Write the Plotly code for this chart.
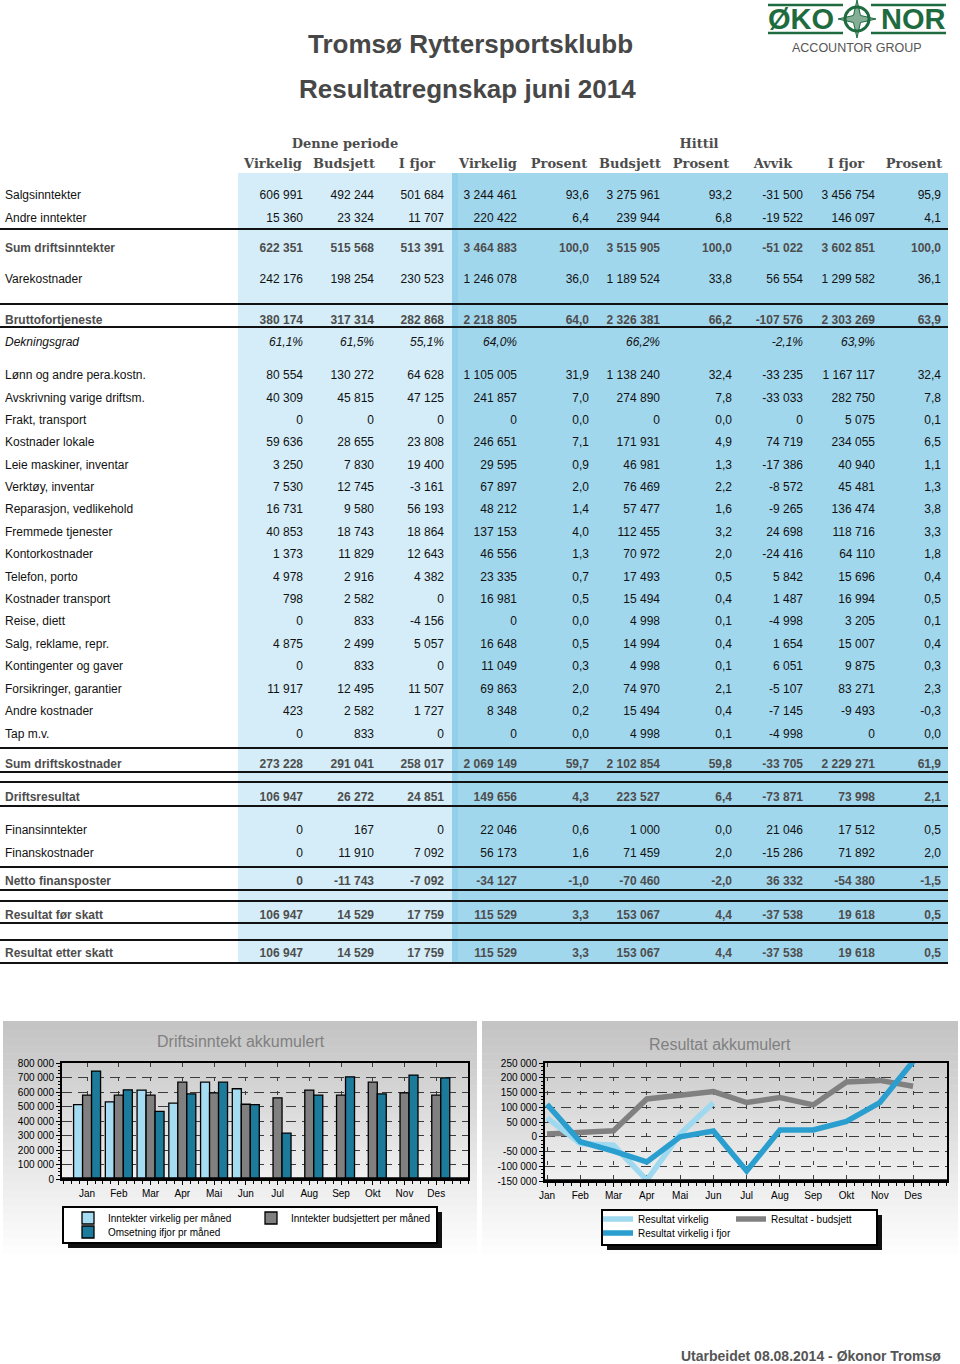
import plotly.graph_objects as go

W, H = 960, 1364

# ---------------------------------------------------------------- data
TITLE = "Tromsø Ryttersportsklubb"
SUBTITLE = "Resultatregnskap juni 2014"
FOOTER = "Utarbeidet 08.08.2014 - Økonor Tromsø"
GROUP_HEADERS = ["Denne periode", "Hittil"]
COLUMN_HEADERS = ["Virkelig", "Budsjett", "I fjor", "Virkelig", "Prosent",
                  "Budsjett", "Prosent", "Avvik", "I fjor", "Prosent"]

ROW_LABELS = [
    "Salgsinntekter", "Andre inntekter", "Sum driftsinntekter", "Varekostnader",
    "Bruttofortjeneste", "Dekningsgrad",
    "Lønn og andre pera.kostn.", "Avskrivning varige driftsm.", "Frakt, transport",
    "Kostnader lokale", "Leie maskiner, inventar", "Verktøy, inventar",
    "Reparasjon, vedlikehold", "Fremmede tjenester", "Kontorkostnader",
    "Telefon, porto", "Kostnader transport", "Reise, diett", "Salg, reklame, repr.",
    "Kontingenter og gaver", "Forsikringer, garantier", "Andre kostnader", "Tap m.v.",
    "Sum driftskostnader", "Driftsresultat", "Finansinntekter", "Finanskostnader",
    "Netto finansposter", "Resultat før skatt", "Resultat etter skatt",
]
# n = normal row, sum = subtotal row, ratio = percentage row
ROW_KIND = ["n", "n", "sum", "n", "sum", "ratio"] + ["n"] * 17 + \
           ["sum", "sum", "n", "n", "sum", "sum", "sum"]

PER_VIRKELIG = [606991, 15360, 622351, 242176, 380174, 61.1, 80554, 40309, 0, 59636,
                3250, 7530, 16731, 40853, 1373, 4978, 798, 0, 4875, 0, 11917, 423, 0,
                273228, 106947, 0, 0, 0, 106947, 106947]
PER_BUDSJETT = [492244, 23324, 515568, 198254, 317314, 61.5, 130272, 45815, 0, 28655,
                7830, 12745, 9580, 18743, 11829, 2916, 2582, 833, 2499, 833, 12495, 2582,
                833, 291041, 26272, 167, 11910, -11743, 14529, 14529]
PER_IFJOR = [501684, 11707, 513391, 230523, 282868, 55.1, 64628, 47125, 0, 23808,
             19400, -3161, 56193, 18864, 12643, 4382, 0, -4156, 5057, 0, 11507, 1727, 0,
             258017, 24851, 0, 7092, -7092, 17759, 17759]
HIT_VIRKELIG = [3244461, 220422, 3464883, 1246078, 2218805, 64.0, 1105005, 241857, 0,
                246651, 29595, 67897, 48212, 137153, 46556, 23335, 16981, 0, 16648, 11049,
                69863, 8348, 0, 2069149, 149656, 22046, 56173, -34127, 115529, 115529]
HIT_VIRKELIG_PROSENT = [93.6, 6.4, 100.0, 36.0, 64.0, None, 31.9, 7.0, 0.0, 7.1, 0.9,
                        2.0, 1.4, 4.0, 1.3, 0.7, 0.5, 0.0, 0.5, 0.3, 2.0, 0.2, 0.0, 59.7,
                        4.3, 0.6, 1.6, -1.0, 3.3, 3.3]
HIT_BUDSJETT = [3275961, 239944, 3515905, 1189524, 2326381, 66.2, 1138240, 274890, 0,
                171931, 46981, 76469, 57477, 112455, 70972, 17493, 15494, 4998, 14994,
                4998, 74970, 15494, 4998, 2102854, 223527, 1000, 71459, -70460, 153067,
                153067]
HIT_BUDSJETT_PROSENT = [93.2, 6.8, 100.0, 33.8, 66.2, None, 32.4, 7.8, 0.0, 4.9, 1.3,
                        2.2, 1.6, 3.2, 2.0, 0.5, 0.4, 0.1, 0.4, 0.1, 2.1, 0.4, 0.1, 59.8,
                        6.4, 0.0, 2.0, -2.0, 4.4, 4.4]
HIT_AVVIK = [-31500, -19522, -51022, 56554, -107576, -2.1, -33235, -33033, 0, 74719,
             -17386, -8572, -9265, 24698, -24416, 5842, 1487, -4998, 1654, 6051, -5107,
             -7145, -4998, -33705, -73871, 21046, -15286, 36332, -37538, -37538]
HIT_IFJOR = [3456754, 146097, 3602851, 1299582, 2303269, 63.9, 1167117, 282750, 5075,
             234055, 40940, 45481, 136474, 118716, 64110, 15696, 16994, 3205, 15007, 9875,
             83271, -9493, 0, 2229271, 73998, 17512, 71892, -54380, 19618, 19618]
HIT_IFJOR_PROSENT = [95.9, 4.1, 100.0, 36.1, 63.9, None, 32.4, 7.8, 0.1, 6.5, 1.1, 1.3,
                     3.8, 3.3, 1.8, 0.4, 0.5, 0.1, 0.4, 0.3, 2.3, -0.3, 0.0, 61.9, 2.1,
                     0.5, 2.0, -1.5, 0.5, 0.5]

TABLE_COLUMNS = [PER_VIRKELIG, PER_BUDSJETT, PER_IFJOR, HIT_VIRKELIG,
                 HIT_VIRKELIG_PROSENT, HIT_BUDSJETT, HIT_BUDSJETT_PROSENT,
                 HIT_AVVIK, HIT_IFJOR, HIT_IFJOR_PROSENT]
PERCENT_COLUMN = [False, False, False, False, True, False, True, False, False, True]

MONTHS = ["Jan", "Feb", "Mar", "Apr", "Mai", "Jun", "Jul", "Aug", "Sep", "Okt", "Nov", "Des"]

BAR_TITLE = "Driftsinntekt akkumulert"
BAR_NAMES = ["Inntekter virkelig per måned", "Inntekter budsjettert per måned",
             "Omsetning ifjor pr måned"]
INNTEKT_VIRKELIG = [513000, 532000, 613000, 523000, 668000, 622351]
INNTEKT_BUDSJETT = [578000, 578000, 578000, 668000, 594000, 515568,
                    560000, 613000, 578000, 668000, 594000, 578000]
OMSETNING_IFJOR = [744000, 615000, 467000, 587000, 668000, 513391,
                   317000, 578000, 705000, 587000, 717000, 698000]
BAR_Y_TICKS = [0, 100000, 200000, 300000, 400000, 500000, 600000, 700000, 800000]
BAR_Y_LABELS = ["0", "100 000", "200 000", "300 000", "400 000", "500 000",
                "600 000", "700 000", "800 000"]

LINE_TITLE = "Resultat akkumulert"
LINE_NAMES = ["Resultat virkelig", "Resultat - budsjett", "Resultat virkelig i fjor"]
RESULTAT_VIRKELIG = [64000, -23000, -29000, -147000, 9000, 115529]
RESULTAT_BUDSJETT = [9000, 15000, 20000, 128000, 139000, 153067,
                     116000, 133000, 108000, 186000, 191000, 171000]
RESULTAT_IFJOR = [110000, -17000, -49000, -85000, 0, 19618,
                  -116000, 23000, 23000, 52000, 116000, 255000]
LINE_Y_TICKS = [-150000, -100000, -50000, 0, 50000, 100000, 150000, 200000, 250000]
LINE_Y_LABELS = ["-150 000", "-100 000", "-50 000", "0", "50 000", "100 000",
                 "150 000", "200 000", "250 000"]

# ---------------------------------------------------------------- layout constants
SANS = "Liberation Sans, Arial, sans-serif"
SERIF = "DejaVu Serif, serif"
LABEL_X = 5
COL_RIGHT_X = [303, 374, 444, 517, 589, 660, 732, 803, 875, 941]
HEADER_X = [273, 344, 417, 488, 559, 630, 701, 773, 846, 914]
GROUP_HEADER_X = [345, 699]
HEADER_Y = 164.5
GROUP_HEADER_Y = 144.5
TEXT_DY = 1.5
ROW_Y = [194, 217, 247, 278, 319, 341, 374, 397, 419, 441, 464, 486, 508, 531, 553,
         576, 598, 620, 643, 665, 688, 710, 733, 763, 796, 829, 852, 880, 914, 952]
RULE_Y = [229, 304, 327, 748, 772, 782, 806, 867, 890, 901, 923, 940, 963]

LIGHT_BLUE_BG = "#d4edf8"
DARK_BLUE_BG = "#a1d7ed"
GREEN = "#1f6b40"


def px(x):
    return x / W


def py(y):
    return 1 - y / H


shapes = []


def rect(x0, y0, x1, y1, color, layer="below", line=None):
    shapes.append(dict(type="rect", xref="paper", yref="paper",
                       x0=px(x0), x1=px(x1), y0=py(y1), y1=py(y0),
                       fillcolor=color, layer=layer,
                       line=line if line else dict(width=0)))


def seg(x0, y0, x1, y1, color="black", width=2, layer="above"):
    shapes.append(dict(type="line", xref="paper", yref="paper",
                       x0=px(x0), x1=px(x1), y0=py(y0), y1=py(y1),
                       line=dict(color=color, width=width), layer=layer))


def hexmix(c0, c1, t):
    a = [int(c0[i:i + 2], 16) for i in (1, 3, 5)]
    b = [int(c1[i:i + 2], 16) for i in (1, 3, 5)]
    return "#" + "".join(f"{round(a[k] + (b[k] - a[k]) * t):02x}" for k in range(3))


def vgradient(x0, y0, x1, y1, ctop, cbot, n=30):
    step = (y1 - y0) / n
    for i in range(n):
        rect(x0, y0 + i * step, x1, y0 + (i + 1) * step + 0.6, hexmix(ctop, cbot, i / (n - 1)))


def fmt(v, kind, pct_col):
    if v is None:
        return ""
    if kind == "ratio":
        return f"{v:.1f}%".replace(".", ",")
    if pct_col:
        return f"{v:.1f}".replace(".", ",")
    s = f"{abs(int(v)):,}".replace(",", " ")
    return ("-" if v < 0 else "") + s


def styled(s, kind):
    if s == "":
        return s
    if kind == "sum":
        return f"<b>{s}</b>"
    if kind == "ratio":
        return f"<i>{s}</i>"
    return s


row_colors = ["#4d4d4d" if k == "sum" else "#111111" for k in ROW_KIND]
text_y = [y + TEXT_DY for y in ROW_Y]

fig = go.Figure()

# ---------------------------------------------------------------- table backgrounds & rules
rect(238, 173, 452, 963, LIGHT_BLUE_BG)
rect(452, 173, 948, 963, DARK_BLUE_BG)
rect(452, 173, 458, 963, "#93cfe8")
for yy in RULE_Y:
    seg(0, yy, 948, yy, "#111111", 2)

# ---------------------------------------------------------------- table text
fig.add_trace(go.Scatter(
    x=[LABEL_X] * len(ROW_LABELS), y=text_y,
    text=[styled(l, k) for l, k in zip(ROW_LABELS, ROW_KIND)],
    mode="text", textposition="middle right",
    textfont=dict(family=SANS, size=12, color=row_colors),
    xaxis="x3", yaxis="y3", showlegend=False, hoverinfo="skip", cliponaxis=False))

for ci, col in enumerate(TABLE_COLUMNS):
    fig.add_trace(go.Scatter(
        x=[COL_RIGHT_X[ci]] * len(col), y=text_y,
        text=[styled(fmt(v, k, PERCENT_COLUMN[ci]), k) for v, k in zip(col, ROW_KIND)],
        mode="text", textposition="middle left",
        textfont=dict(family=SANS, size=12, color=row_colors),
        xaxis="x3", yaxis="y3", showlegend=False, hoverinfo="skip", cliponaxis=False))

fig.add_trace(go.Scatter(
    x=HEADER_X, y=[HEADER_Y] * len(COLUMN_HEADERS),
    text=[f"<b>{h}</b>" for h in COLUMN_HEADERS],
    mode="text", textposition="middle center",
    textfont=dict(family=SERIF, size=13, color="#4d4d4d"),
    xaxis="x3", yaxis="y3", showlegend=False, hoverinfo="skip", cliponaxis=False))
fig.add_trace(go.Scatter(
    x=GROUP_HEADER_X, y=[GROUP_HEADER_Y] * len(GROUP_HEADERS),
    text=[f"<b>{h}</b>" for h in GROUP_HEADERS],
    mode="text", textposition="middle center",
    textfont=dict(family=SERIF, size=13, color="#4d4d4d"),
    xaxis="x3", yaxis="y3", showlegend=False, hoverinfo="skip", cliponaxis=False))

# ---------------------------------------------------------------- chart panels
vgradient(3, 1021, 477, 1262, "#c4c4c4", "#ffffff")
vgradient(482, 1021, 958, 1262, "#c4c4c4", "#ffffff")
vgradient(62, 1063, 468, 1179, "#cdcdcd", "#f0f0f0")
vgradient(545, 1063, 947, 1181, "#cdcdcd", "#f0f0f0")

# ---------------------------------------------------------------- bar chart
bar_colors = ["#a6dcf2", "#808080", "#1c7a9b"]
bar_legends = ["legend", "legend", "legend3"]
for name, vals, colr, lg in zip(BAR_NAMES,
                                [INNTEKT_VIRKELIG, INNTEKT_BUDSJETT, OMSETNING_IFJOR],
                                bar_colors, bar_legends):
    fig.add_trace(go.Bar(
        x=list(range(len(vals))), y=vals, name=name,
        marker=dict(color=colr, line=dict(color="#000000", width=1.3)),
        xaxis="x", yaxis="y", legend=lg, hoverinfo="skip"))

# ---------------------------------------------------------------- line chart
line_specs = [
    (LINE_NAMES[1], RESULTAT_BUDSJETT, "#808080", 2, "legend2"),
    (LINE_NAMES[0], RESULTAT_VIRKELIG, "#9ed9f0", 1, "legend2"),
    (LINE_NAMES[2], RESULTAT_IFJOR, "#2a9fcf", 3, "legend4"),
]
for name, vals, colr, rank, lg in line_specs:
    fig.add_trace(go.Scatter(
        x=list(range(len(vals))), y=vals, name=name, mode="lines",
        line=dict(color=colr, width=5.5), legendrank=rank,
        xaxis="x2", yaxis="y2", legend=lg, hoverinfo="skip"))

# plot frame bottom (thicker base line)
seg(62, 1179, 468, 1179, "#000000", 3.5)
seg(545, 1181, 947, 1181, "#000000", 3.5)

# legend boxes with shadows
rect(68, 1212, 442, 1248, "#111111", layer="above")
rect(63, 1207, 437, 1243, "#ffffff", layer="above", line=dict(color="#000000", width=2))
rect(607, 1215, 882, 1250, "#111111", layer="above")
rect(602, 1210, 877, 1245, "#ffffff", layer="above", line=dict(color="#000000", width=2))

# ---------------------------------------------------------------- logo
seg(768, 5, 843, 5, GREEN, 2.5)
seg(871, 5, 946, 5, GREEN, 2.5)
seg(768, 33, 843, 33, GREEN, 2.5)
seg(871, 33, 946, 33, GREEN, 2.5)
shapes.append(dict(type="circle", xref="paper", yref="paper",
                   x0=px(845), x1=px(869), y0=py(31), y1=py(7),
                   line=dict(color=GREEN, width=3), layer="above"))
star = [(857, 0), (860.5, 15.5), (876, 19), (860.5, 22.5), (857, 38), (853.5, 22.5),
        (838, 19), (853.5, 15.5)]
path = "M" + " L".join(f"{px(a):.5f},{py(b):.5f}" for a, b in star) + " Z"
shapes.append(dict(type="path", xref="paper", yref="paper", path=path,
                   fillcolor="rgba(31,107,64,0.55)", line=dict(color=GREEN, width=1),
                   layer="above"))

annotations = []


def note(text, x, y, size, color, family=SANS, xanchor="center", bold=False):
    annotations.append(dict(text=f"<b>{text}</b>" if bold else text,
                            x=px(x), y=py(y), xref="paper", yref="paper",
                            xanchor=xanchor, yanchor="middle", showarrow=False,
                            font=dict(family=family, size=size, color=color)))


note("ØKO", 801, 19, 29, GREEN, bold=True)
note("NOR", 913, 19, 29, GREEN, bold=True)
note("ACCOUNTOR GROUP", 857, 48, 12.5, "#555555")
note(TITLE, 470, 44, 26, "#474747", bold=True)
note(SUBTITLE, 467, 89, 26, "#474747", bold=True)
note(FOOTER, 943, 1356, 14, "#555555", xanchor="right", bold=True)
note(BAR_TITLE, 241, 1041, 16, "#808080")
note(LINE_TITLE, 720, 1044, 16, "#808080")

tickfont = dict(family=SANS, size=10, color="#000000")
common_axis = dict(showline=True, mirror=True, linecolor="#000000", linewidth=2,
                   ticks="outside", ticklen=4, tickcolor="#000000", tickwidth=1,
                   tickfont=tickfont, showgrid=True, gridcolor="#3c3c3c", gridwidth=1.2,
                   zeroline=False, fixedrange=True)


def legend_at(x, y, entrywidth):
    return dict(x=px(x), y=py(y), xanchor="left", yanchor="middle", orientation="h",
                bgcolor="rgba(0,0,0,0)", borderwidth=0,
                font=dict(family=SANS, size=10, color="#000000"),
                entrywidth=entrywidth, traceorder="normal", tracegroupgap=0)


fig.update_layout(
    width=W, height=H, margin=dict(l=0, r=0, t=0, b=0, autoexpand=False),
    paper_bgcolor="#ffffff", plot_bgcolor="rgba(0,0,0,0)",
    barmode="group", bargap=0.15, bargroupgap=0,
    shapes=shapes, annotations=annotations,
    xaxis=dict(domain=[px(62), px(468)], anchor="y", range=[-0.79, 12.0],
               tickmode="array", tickvals=list(range(12)), ticktext=MONTHS,
               griddash="4px,10px",
               minor=dict(ticks="outside", ticklen=3, tickcolor="#000000", dtick=0.25,
                          showgrid=False),
               **common_axis),
    yaxis=dict(domain=[py(1179), py(1063)], anchor="x", range=[0, 800000],
               tickmode="array", tickvals=BAR_Y_TICKS, ticktext=BAR_Y_LABELS,
               griddash="10px,6px",
               minor=dict(ticks="outside", ticklen=2, tickcolor="#000000", dtick=25000,
                          showgrid=False),
               **common_axis),
    xaxis2=dict(domain=[px(545), px(947)], anchor="y2", range=[-0.06, 12.02],
                tickmode="array", tickvals=list(range(12)), ticktext=MONTHS,
                griddash="4px,10px",
                minor=dict(ticks="outside", ticklen=3, tickcolor="#000000", dtick=0.25,
                           showgrid=False),
                **common_axis),
    yaxis2=dict(domain=[py(1181), py(1063)], anchor="x2", range=[-150000, 250000],
                tickmode="array", tickvals=LINE_Y_TICKS, ticktext=LINE_Y_LABELS,
                griddash="10px,6px",
                minor=dict(ticks="outside", ticklen=2, tickcolor="#000000", dtick=12500,
                           showgrid=False),
                **common_axis),
    xaxis3=dict(domain=[0, 1], anchor="y3", range=[0, W], visible=False, fixedrange=True),
    yaxis3=dict(domain=[0, 1], anchor="x3", range=[H, 0], visible=False, fixedrange=True),
    legend=legend_at(68, 1218, 138),
    legend3=legend_at(68, 1232, 138),
    legend2=legend_at(598, 1219, 88),
    legend4=legend_at(598, 1233, 88),
    showlegend=True,
)

fig.write_html(
    "out.html",
    config={"displayModeBar": False},
    post_script="document.body.style.margin='0';document.body.style.padding='0';"
                "document.body.style.overflow='hidden';",
)
